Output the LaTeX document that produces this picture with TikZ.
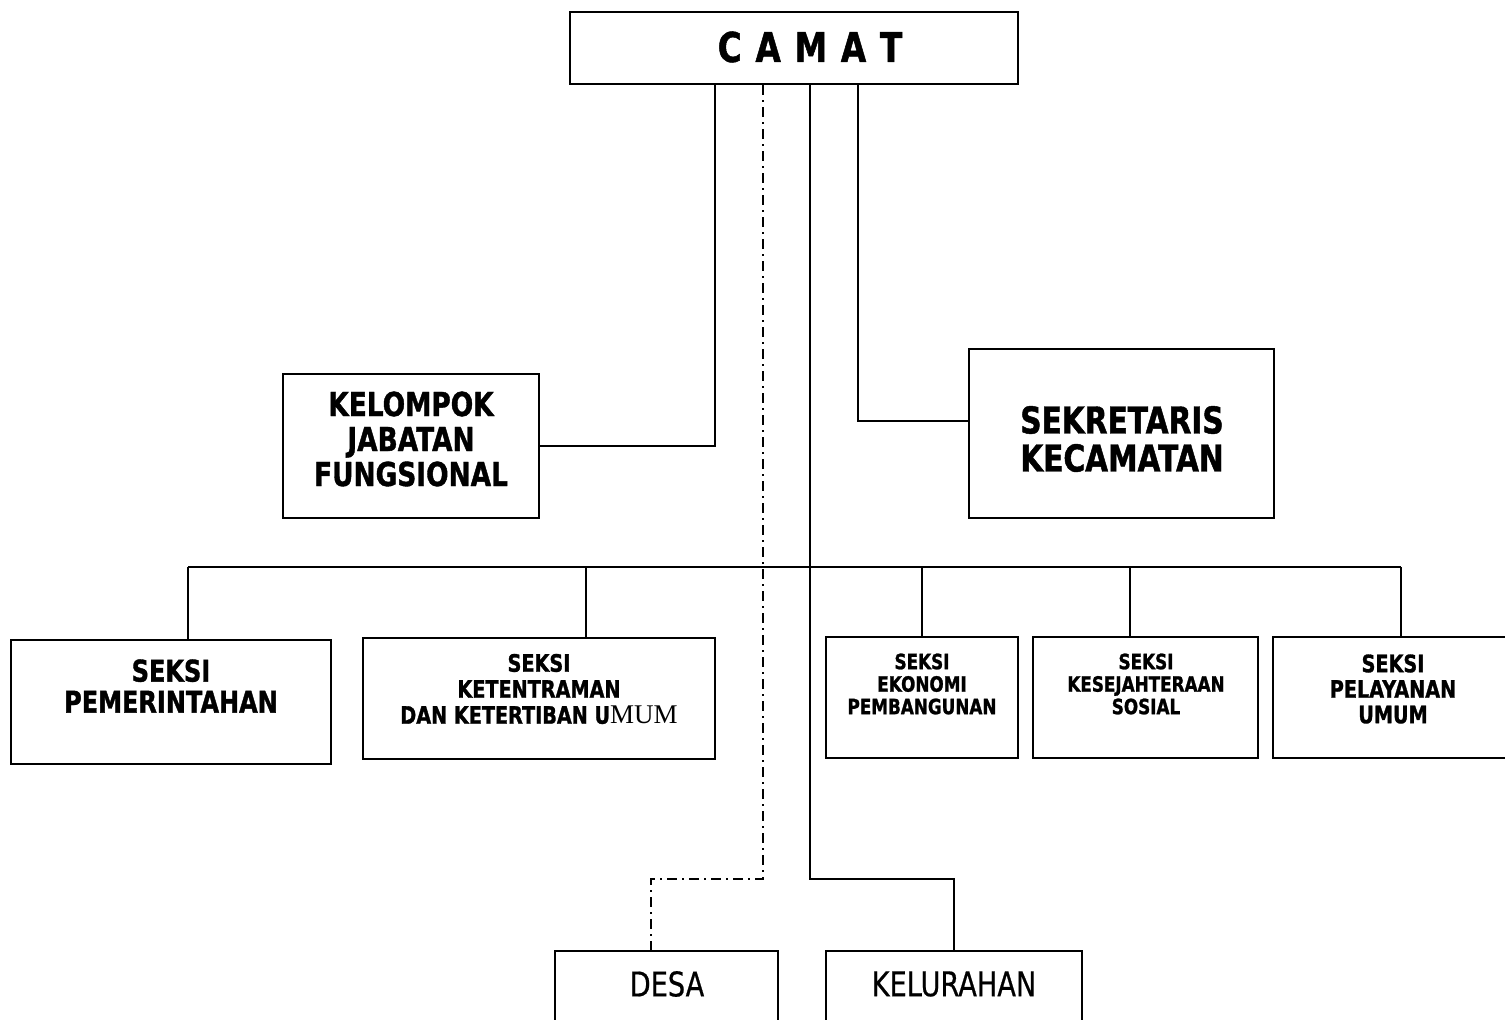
\documentclass[tikz,border=0pt]{standalone}
\usepackage{fontspec}
\newfontfamily\dvb[FakeStretch=0.8,FakeBold=1.2]{DejaVu Sans Bold}
\newfontfamily\dvr[FakeStretch=0.8,FakeBold=0.6]{DejaVu Sans}
\newfontfamily\tms{Liberation Serif}
\begin{document}
\begin{tikzpicture}[x=1pt,y=-1pt,
  box/.style={draw,line width=2.2pt,inner sep=0pt,minimum width=#1},
  txt/.style={align=center,inner sep=0pt},
  conn/.style={line width=2.2pt},
  dashdotline/.style={line width=1.8pt,dash pattern=on 10pt off 5pt on 2pt off 5pt}]
\clip (0,0) rectangle (1505,1020);
\fill[white] (0,0) rectangle (1505,1020);
% boxes
\node[box=448pt,minimum height=72pt] (camat) at (794,48) {};
\node[box=256pt,minimum height=144pt] (kjf) at (411,446) {};
\node[box=305pt,minimum height=169pt] (sek) at (1121.5,433.5) {};
\node[box=320pt,minimum height=124pt] (s1) at (171,702) {};
\node[box=352pt,minimum height=121pt] (s2) at (539,698.5) {};
\node[box=192pt,minimum height=121pt] (s3) at (922,697.5) {};
\node[box=225pt,minimum height=121pt] (s4) at (1145.5,697.5) {};
\node[box=237pt,minimum height=121pt] (s5) at (1391.5,697.5) {};
\node[box=223pt,minimum height=89pt] (desa) at (666.5,995.5) {};
\node[box=256pt,minimum height=89pt] (kel) at (954,995.5) {};
% texts
\node[txt,font=\dvb\fontsize{41}{41}\selectfont] (tcamat) at (810,47) {C\,\,A\,\,M\,\,A\,\,T};
\node[txt,font=\dvb\fontsize{33}{35}\selectfont] (tkjf) at (411,439) {KELOMPOK\\JABATAN\\FUNGSIONAL};
\node[txt,font=\dvb\fontsize{37}{38}\selectfont] (tsek) at (1122,439) {SEKRETARIS\\KECAMATAN};
\node[txt,font=\dvb\fontsize{30}{31}\selectfont] (ts1) at (171,686) {SEKSI\\PEMERINTAHAN};
\node[txt,font=\dvb\fontsize{24}{26}\selectfont] (ts2) at (539,689) {SEKSI\\KETENTRAMAN\\DAN KETERTIBAN U{\tms\fontsize{27}{26}\selectfont MUM}};
\node[txt,font=\dvb\fontsize{21}{22.5}\selectfont] (ts3) at (922,684) {SEKSI\\EKONOMI\\PEMBANGUNAN};
\node[txt,font=\dvb\fontsize{21}{22.5}\selectfont] (ts4) at (1146,684) {SEKSI\\KESEJAHTERAAN\\SOSIAL};
\node[txt,font=\dvb\fontsize{24}{25.5}\selectfont] (ts5) at (1393,689) {SEKSI\\PELAYANAN\\UMUM};
\node[txt,font=\dvr\fontsize{34}{34}\selectfont] (tdesa) at (667,984) {DESA};
\node[txt,font=\dvr\fontsize{34}{34}\selectfont] (tkel) at (954,984) {KELURAHAN};
% junction coordinates
\coordinate (c1) at (715,446);
\coordinate (j1) at (763,879);
\coordinate (d1) at (651,879);
\coordinate (j2) at (810,879);
\coordinate (c4) at (858,421);
\coordinate (b1) at (188,567);
\coordinate (b2) at (586,567);
\coordinate (b3) at (922,567);
\coordinate (b4) at (1130,567);
\coordinate (b5) at (1401,567);
% connectors
\draw[conn] (camat.south -| c1) -- (c1) -- (kjf.east);
\draw[conn] (camat.south -| c4) -- (c4) -- (c4 -| sek.west);
\draw[conn] (camat.south -| j2) -- (j2) -| (kel.north);
\draw[dashdotline] (camat.south -| j1) -- (j1) -- (d1) -- (d1 |- desa.north);
\draw[conn] (b1) -- (b5);
\draw[conn] (b1) -- (b1 |- s1.north);
\draw[conn] (b2) -- (b2 |- s2.north);
\draw[conn] (b3) -- (b3 |- s3.north);
\draw[conn] (b4) -- (b4 |- s4.north);
\draw[conn] (b5) -- (b5 |- s5.north);
\end{tikzpicture}
\end{document}
